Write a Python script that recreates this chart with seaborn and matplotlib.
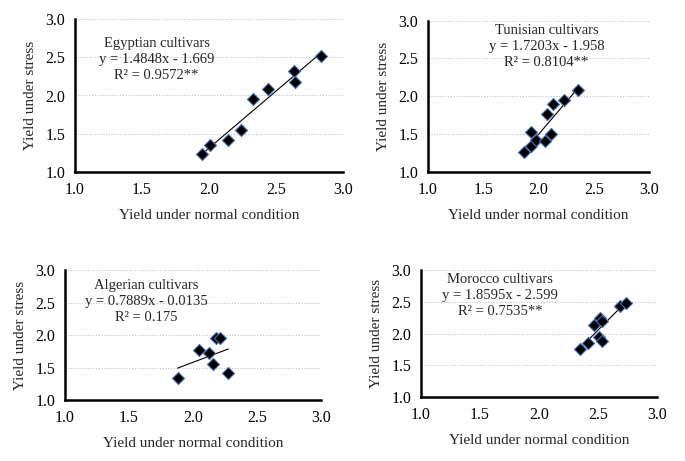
import numpy as np
import pandas as pd
import matplotlib
matplotlib.use("Agg")
import matplotlib.pyplot as plt
import seaborn as sns

sns.set_style("white")
plt.rcParams['font.family'] = ['Liberation Serif', 'DejaVu Serif']

# Egyptian cultivars
egypt_x = [1.945, 2.007, 2.139, 2.239, 2.331, 2.438, 2.637, 2.644, 2.836]
egypt_y = [1.239, 1.349, 1.418, 1.553, 1.950, 2.081, 2.324, 2.176, 2.516]

# Tunisian cultivars
tunis_x = [1.872, 1.932, 1.932, 1.977, 2.056, 2.116, 2.077, 2.134, 2.233, 2.354]
tunis_y = [1.259, 1.338, 1.524, 1.418, 1.409, 1.497, 1.772, 1.892, 1.945, 2.077]

# Algerian cultivars
alger_x = [1.880, 2.047, 2.127, 2.159, 2.180, 2.211, 2.276]
alger_y = [1.332, 1.764, 1.723, 1.559, 1.955, 1.961, 1.420]

# Morocco cultivars
moroc_x = [2.346, 2.417, 2.468, 2.516, 2.536, 2.510, 2.530, 2.686, 2.734]
moroc_y = [1.756, 1.855, 2.134, 2.249, 2.202, 1.940, 1.882, 2.433, 2.475]

titles = ["Egyptian cultivars", "Tunisian cultivars", "Algerian cultivars", "Morocco cultivars"]
equations = ["y = 1.4848x - 1.669", "y = 1.7203x - 1.958", "y = 0.7889x - 0.0135", "y = 1.8595x - 2.599"]
r2_labels = ["R² = 0.9572**", "R² = 0.8104**", "R² = 0.175", "R² = 0.7535**"]
ticks = [1.0, 1.5, 2.0, 2.5, 3.0]

panels = [
    (egypt_x, egypt_y, [75/685, (461-172)/461, 268/685, 153/461], (1.61, 2.477)),
    (tunis_x, tunis_y, [428/685, (461-172)/461, 221/685, 151.5/461], (2.074, 2.655)),
    (alger_x, alger_y, [65/685, (461-400)/461, 256/685, 130/461], (1.638, 2.521)),
    (moroc_x, moroc_y, [421/685, (461-397)/461, 236/685, 127/461], (1.673, 2.606)),
]

fig = plt.figure(figsize=(6.85, 4.61), dpi=100)

for i, (xs, ys, rect, txt) in enumerate(panels):
    ax = fig.add_axes(rect)
    df = pd.DataFrame({"normal": xs, "stress": ys})
    sns.regplot(data=df, x="normal", y="stress", ax=ax, ci=None, marker="D",
                scatter_kws={"s": 38, "color": "black", "edgecolors": "#4a70b8", "linewidths": 0.8, "alpha": 1, "zorder": 3},
                line_kws={"color": "black", "lw": 0.8, "zorder": 2})
    ax.set_xlim(1.0, 3.0)
    ax.set_ylim(1.0, 3.0)
    ax.set_xticks(ticks)
    ax.set_yticks(ticks)
    ax.set_xticklabels([f"{t:.1f}" for t in ticks])
    ax.set_yticklabels([f"{t:.1f}" for t in ticks])
    ax.yaxis.grid(True, linestyle=(0, (1, 1.5)), color="#b8c4d8", lw=0.8)
    ax.set_axisbelow(True)
    for s in ["top", "right"]:
        ax.spines[s].set_visible(False)
    for s in ["left", "bottom"]:
        ax.spines[s].set_linewidth(1.8)
        ax.spines[s].set_color("black")
    ax.tick_params(direction="out", length=4, width=1.5, labelsize=11.5, colors="black", pad=3)
    ax.set_xlabel("Yield under normal condition", fontsize=11, labelpad=8)
    ax.set_ylabel("Yield under stress", fontsize=11, labelpad=6)
    ax.text(txt[0], txt[1], f"{titles[i]}\n{equations[i]}\n{r2_labels[i]}",
            ha="center", va="center", fontsize=10.5, linespacing=1.3, multialignment="center")

fig.savefig("out.png", dpi=100)
